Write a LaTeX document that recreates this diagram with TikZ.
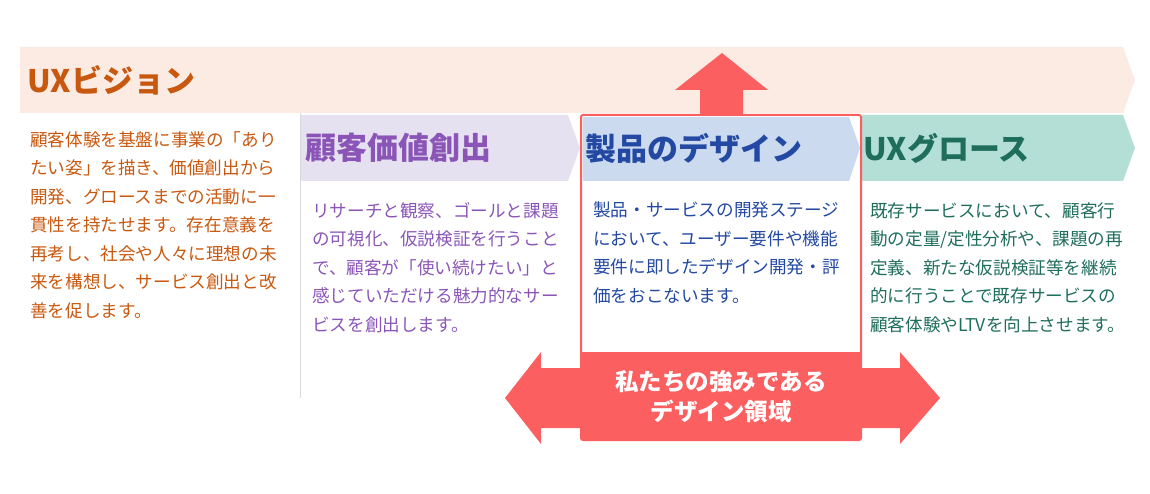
\documentclass[tikz,border=0pt]{standalone}
\usepackage{fontspec}
\setmainfont{Noto Sans CJK JP}
\definecolor{visbg}{HTML}{FBEBE3}
\definecolor{vistx}{HTML}{C8580F}
\definecolor{purbg}{HTML}{E5E1F0}
\definecolor{purtx}{HTML}{8B55B8}
\definecolor{blubg}{HTML}{CCDAF0}
\definecolor{blutx}{HTML}{2349A3}
\definecolor{grnbg}{HTML}{B3DFD7}
\definecolor{grntx}{HTML}{1F6E5C}
\definecolor{redc}{HTML}{FB5F5F}
\tikzset{
 ttl/.style={anchor=west,font=\bfseries\fontsize{31}{33}\selectfont},
 body/.style={anchor=north west,align=left,inner sep=0,font=\fontsize{17.6}{28.5}\selectfont},
 arr/.style={fill=redc,draw=none}
}
\begin{document}
\begin{tikzpicture}[x=1pt,y=-1pt]
\useasboundingbox (0,0) rectangle (1150,494);
% vision band
\fill[visbg] (20,47) -- (1123,47) -- (1135,80) -- (1123,113) -- (20,113) -- cycle;
\node[ttl,text=vistx] (vis) at (24,80) {UXビジョン};
\node[body,text=vistx] (vist) at (30,131) {顧客体験を基盤に事業の「あり\\たい姿」を描き、価値創出から\\開発、グロースまでの活動に一\\貫性を持たせます。存在意義を\\再考し、社会や人々に理想の未\\来を構想し、サービス創出と改\\善を促します。};
\draw[black!15,line width=1] (300,113) -- (300,398);
% purple
\fill[purbg] (301,115) -- (568,115) -- (580,148) -- (568,181) -- (301,181) -- cycle;
\node[ttl,text=purtx] (pur) at (302,148) {顧客価値創出};
\node[body,text=purtx] (purt) at (312,202) {リサーチと観察、ゴールと課題\\の可視化、仮説検証を行うこと\\で、顧客が「使い続けたい」と\\感じていただける魅力的なサー\\ビスを創出します。};
% green
\fill[grnbg] (862,115) -- (1123,115) -- (1135,148) -- (1123,181) -- (862,181) -- cycle;
\node[ttl,text=grntx] (grn) at (860,148) {UXグロース};
\node[body,text=grntx] (grnt) at (870,202) {既存サービスにおいて、顧客行\\動の定量/定性分析や、課題の再\\定義、新たな仮説検証等を継続\\的に行うことで既存サービスの\\顧客体験やLTVを向上させます。};
% product box
\fill[white] (581,115) rectangle (861,440);
\fill[blubg] (583,117) -- (849,117) -- (860,148) -- (849,181) -- (583,181) -- cycle;
\fill[redc,rounded corners=2] (581,352) rectangle (861,440);
\draw[redc,line width=2,rounded corners=2] (581,115) rectangle (861,440);
\node[ttl,text=blutx] (blu) at (582,148) {製品のデザイン};
\node[body,text=blutx] (blut) at (593,202) {製品・サービスの開発ステージ\\において、ユーザー要件や機能\\要件に即したデザイン開発・評\\価をおこないます。};
\node[text=white,align=center,font=\bfseries\fontsize{23.5}{30}\selectfont] (str) at (721,397) {私たちの強みである\\デザイン領域};
% arrows
\fill[arr] (700,115) -- (700,90) -- (675,90) -- (722,53) -- (768,90) -- (743,90) -- (743,115) -- cycle;
\fill[arr] (581,368) -- (541,368) -- (541,352) -- (505,398) -- (541,444) -- (541,428) -- (581,428) -- cycle;
\fill[arr] (861,368) -- (900,368) -- (900,352) -- (940,398) -- (900,444) -- (900,428) -- (861,428) -- cycle;
\end{tikzpicture}
\end{document}
